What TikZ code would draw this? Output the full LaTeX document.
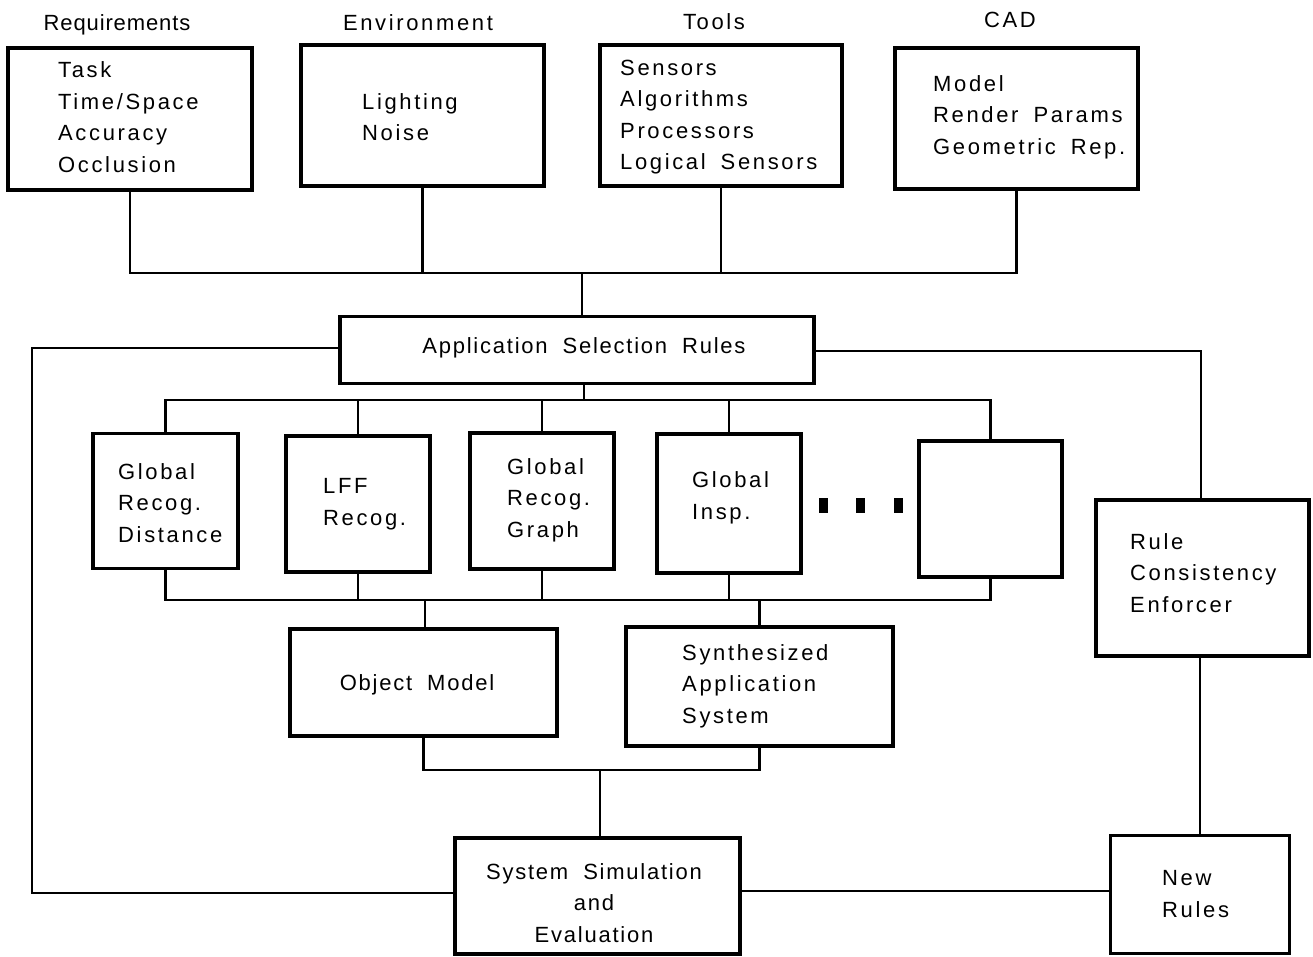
\documentclass[tikz,border=0pt]{standalone}
\usepackage{fontspec}
\setmainfont{Liberation Sans}
\newcommand{\wsp}{\hspace{15pt}}
\begin{document}
\begin{tikzpicture}[x=1pt,y=-1pt,
  box/.style={draw, line width=3.4pt, inner sep=0pt},
  wire/.style={line width=2.8pt},
  thinwire/.style={line width=2.2pt},
  txt/.style={inner sep=0pt, align=left,
    font=\fontsize{22}{31.5}\selectfont\addfontfeature{LetterSpace=12}},
  tight/.style={inner sep=0pt, align=center,
    font=\fontsize{22}{31.5}\selectfont\addfontfeature{LetterSpace=8}},
  head/.style={inner sep=0pt,
    font=\fontsize{22}{26}\selectfont\addfontfeature{LetterSpace=12}},
  dot/.style={fill=black, minimum width=9pt, minimum height=15pt, inner sep=0pt}]
\useasboundingbox (0,0) rectangle (1313,956);

% ---- top row: inputs -------------------------------------------------
\node[head, font=\fontsize{22}{26}\selectfont\addfontfeature{LetterSpace=4}] (hreq) at (117,25) {Requirements};
\node[head] (henv) at (418,23) {Environment};
\node[head] (htool) at (714,22) {Tools};
\node[head] (hcad) at (1010,20) {CAD};

\node[box, minimum width=244, minimum height=142] (req)  at (130,119) {};
\node[box, minimum width=243, minimum height=141] (env)  at (422.5,115.5) {};
\node[box, minimum width=242, minimum height=141] (tool) at (721,115.5) {};
\node[box, minimum width=243, minimum height=141] (cad)  at (1016.5,118.5) {};

\node[txt, anchor=west] (treq)  at (58,117)  {Task\\Time/Space\\Accuracy\\Occlusion};
\node[txt, anchor=west] (tenv)  at (362,117) {Lighting\\Noise};
\node[txt, anchor=west] (ttool) at (620,117) {Sensors\\Algorithms\\Processors\\Logical\wsp Sensors};
\node[txt, anchor=west] (tcad)  at (933,117) {Model\\Render\wsp Params\\Geometric\wsp Rep.};

% ---- selection rules -------------------------------------------------
\node[box, minimum width=474, minimum height=67] (app) at (577,350) {};
\node[tight] (tapp) at (584,348) {Application\wsp Selection\wsp Rules};

% ---- candidate modules -----------------------------------------------
\node[box, minimum width=145, minimum height=135] (b1) at (165.5,501) {};
\node[box, minimum width=144, minimum height=136] (b2) at (358,504) {};
\node[box, minimum width=144, minimum height=136] (b3) at (542,501) {};
\node[box, minimum width=144, minimum height=139] (b4) at (729,503.5) {};
\node[box, minimum width=143, minimum height=136] (b5) at (990.5,509) {};

\node[txt, anchor=west] (tb1) at (118,503) {Global\\Recog.\\Distance};
\node[txt, anchor=west] (tb2) at (323,504) {LFF\\Recog.};
\node[txt, anchor=west] (tb3) at (507,500) {Global\\Recog.\\Graph};
\node[txt, anchor=west] (tb4) at (692,498) {Global\\Insp.};

\node[dot] (d1) at (823,505) {};
\node[dot] (d2) at (860,505) {};
\node[dot] (d3) at (898,505) {};

% ---- results -------------------------------------------------------
\node[box, minimum width=267, minimum height=107] (om)  at (423.5,682.5) {};
\node[box, minimum width=267, minimum height=119] (syn) at (759.5,686.5) {};
\node[tight] (tom) at (417,685) {Object\wsp Model};
\node[txt, anchor=west] (tsyn) at (682,686) {Synthesized\\Application\\System};

\node[box, minimum width=285, minimum height=116] (sim) at (597.5,896) {};
\node[tight] (tsim) at (594,903) {System\wsp Simulation\\and\\Evaluation};

% ---- rule maintenance --------------------------------------------------
\node[box, minimum width=213, minimum height=156] (rce) at (1202.5,578) {};
\node[txt, anchor=west] (trce) at (1130,573) {Rule\\Consistency\\Enforcer};
\node[box, minimum width=179, minimum height=118] (new) at (1200,894.5) {};
\node[txt, anchor=west] (tnew) at (1162,894) {New\\Rules};

% ---- junction points -------------------------------------------------
\coordinate (topbus) at (582,273);
\coordinate (midbus) at (584,400);
\coordinate (lowbus) at (425,600);
\coordinate (simbus) at (600,770);
\coordinate (loopL)  at (32,893);
\coordinate (loopR)  at (1201,351);
\coordinate (newin)  at (1111,891);

% ---- connectors ------------------------------------------------------
\draw[wire] (req.south) |- (cad.south |- topbus) -- (cad.south);
\draw[wire] (env.south) -- (env.south |- topbus);
\draw[wire] (tool.south) -- (tool.south |- topbus);
\draw[wire] (topbus) -- (topbus |- app.north);

\draw[wire] (app.south -| midbus) -- (midbus);
\draw[wire] (b1.north) |- (b5.north |- midbus) -- (b5.north);
\draw[wire] (b2.north) -- (b2.north |- midbus);
\draw[wire] (b3.north) -- (b3.north |- midbus);
\draw[wire] (b4.north) -- (b4.north |- midbus);

\draw[wire] (b1.south) |- (b5.south |- lowbus) -- (b5.south);
\draw[wire] (b2.south) -- (b2.south |- lowbus);
\draw[wire] (b3.south) -- (b3.south |- lowbus);
\draw[wire] (b4.south) -- (b4.south |- lowbus);
\draw[wire] (lowbus) -- (lowbus |- om.north);
\draw[wire] (syn.north |- lowbus) -- (syn.north);

\draw[wire] (om.south) |- (syn.south |- simbus) -- (syn.south);
\draw[wire] (simbus) -- (simbus |- sim.north);

\draw[wire] (app.west |- 0,348) -| (loopL) -- (loopL -| sim.west);
\draw[wire] (app.east |- loopR) -| (loopR |- rce.north);
\draw[thinwire] (rce.south -| new.north) -- (new.north);
\draw[wire] (sim.east |- newin) -- (newin -| new.west);
\end{tikzpicture}
\end{document}
